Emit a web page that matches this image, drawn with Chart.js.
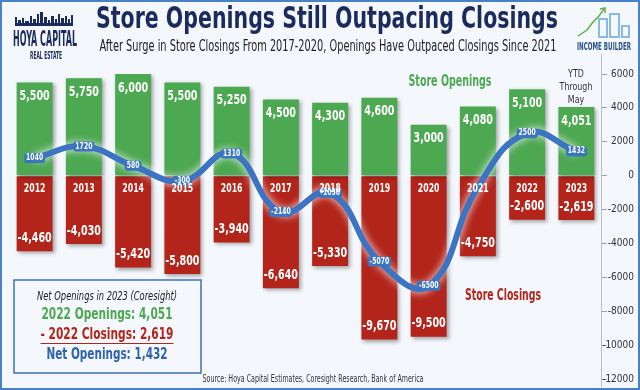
<!DOCTYPE html>
<html>
<head>
<meta charset="utf-8">
<script src="https://cdn.jsdelivr.net/npm/chart.js@4.4.0/dist/chart.umd.min.js"></script>
<style>
  html, body { margin: 0; padding: 0; background: #f4f7fc; }
  canvas { display: block; }
</style>
</head>
<body>
<canvas id="storeChart" width="640" height="390"></canvas>
<script>
// values
const years = ['2012', '2013', '2014', '2015', '2016', '2017', '2018', '2019', '2020', '2021', '2022', '2023'];
const openings = [5500, 5750, 6000, 5500, 5250, 4500, 4300, 4600, 3000, 4080, 5100, 4051];
const closings = [-4460, -4030, -5420, -5800, -3940, -6640, -5330, -9670, -9500, -4750, -2600, -2619];
const netOpenings = [1040, 1720, 580, -300, 1310, -2140, -1030, -5070, -6500, -670, 2500, 1432];
const hiddenNetLabels = ['2021'];   // label sits under the year text in the original
const yMin = -12000, yMax = 6000, yStep = 2000;

const BG = '#f4f7fc';
const GREEN = '#4da852';
const RED = '#b3241a';
const BLUE = '#3a74c2';
const NAVY = '#1c2b5e';
const NARROW = '"DejaVu Sans Condensed", "Liberation Sans", sans-serif';

// draw text squeezed/stretched to a given width (the original uses a condensed face)
function fitText(ctx, text, cx, cy, width, font, color) {
    ctx.save();
    ctx.font = font;
    const w = ctx.measureText(text).width;
    ctx.translate(cx, cy);
    ctx.scale(width / w, 1);
    ctx.fillStyle = color;
    ctx.textAlign = 'center';
    ctx.textBaseline = 'middle';
    ctx.fillText(text, 0, 0);
    ctx.restore();
}

// centred text with a fixed horizontal squeeze
function label(ctx, text, x, y, font, color, sx) {
    ctx.save();
    ctx.font = font;
    ctx.fillStyle = color;
    ctx.textAlign = 'center';
    ctx.textBaseline = 'middle';
    ctx.translate(x, y);
    ctx.scale(sx || 0.78, 1);
    ctx.fillText(text, 0, 0);
    ctx.restore();
}

const fmt = v => v.toLocaleString('en-US');

const backgroundPlugin = {
    id: 'background',
    beforeDraw(chart) {
        const ctx = chart.ctx;
        ctx.save();
        ctx.fillStyle = BG;
        ctx.fillRect(0, 0, chart.width, chart.height);
        ctx.restore();
    }
};

// soft drop shadow under bars, white glow around the net line
const shadowPlugin = {
    id: 'shadows',
    beforeDatasetDraw(chart, args) {
        const ctx = chart.ctx;
        ctx.save();
        if (args.meta.type === 'bar') {
            ctx.shadowColor = 'rgba(0,0,0,0.35)';
            ctx.shadowBlur = 4;
            ctx.shadowOffsetX = 2;
            ctx.shadowOffsetY = 2;
        } else {
            ctx.shadowColor = 'rgba(255,255,255,1)';
            ctx.shadowBlur = 9;
        }
    },
    afterDatasetDraw(chart) {
        chart.ctx.restore();
    }
};

const labelsPlugin = {
    id: 'valueLabels',
    afterDatasetsDraw(chart) {
        const ctx = chart.ctx;
        const x = chart.scales.x, y = chart.scales.y;
        ctx.save();

        // bar values
        chart.getDatasetMeta(1).data.forEach((bar, i) => {
            label(ctx, fmt(openings[i]), bar.x, bar.y + 14, 'bold 14px ' + NARROW, '#fff', 0.76);
        });
        chart.getDatasetMeta(2).data.forEach((bar, i) => {
            label(ctx, fmt(closings[i]), bar.x, bar.y - 13, 'bold 14px ' + NARROW, '#fff', 0.76);
        });

        // net line labels
        ctx.font = 'bold 8px ' + NARROW;
        chart.getDatasetMeta(0).data.forEach((pt, i) => {
            if (hiddenNetLabels.includes(years[i])) return;
            const t = String(netOpenings[i]);
            const w = ctx.measureText(t).width * 0.85 + 4;
            ctx.fillStyle = BLUE;
            ctx.beginPath();
            ctx.roundRect(pt.x - w / 2, pt.y - 5, w, 10, 3);
            ctx.fill();
            label(ctx, t, pt.x, pt.y, 'bold 8px ' + NARROW, '#fff', 0.85);
        });

        // years just below the zero line
        const zero = y.getPixelForValue(0);
        years.forEach((yr, i) => {
            label(ctx, yr, x.getPixelForValue(i), zero + 13, 'bold 12px ' + NARROW, '#fff', 0.72);
        });
        ctx.restore();
    }
};

function drawHoyaLogo(ctx) {
    ctx.save();
    ctx.fillStyle = NAVY;
    // skyline
    ctx.fillRect(15, 23, 58, 3);
    const towers = [[15, 17, 2], [18, 20, 3], [22, 18, 2], [25, 21, 4], [30, 16, 2], [33, 19, 3], [37, 14, 2], [40, 12, 3], [44, 17, 3], [48, 20, 2], [51, 16, 3], [55, 19, 2], [58, 14, 2], [61, 18, 3], [65, 16, 2], [68, 19, 2], [71, 15, 2]];
    towers.forEach(t => ctx.fillRect(t[0], t[1], t[2], 24 - t[1]));
    ctx.restore();
    fitText(ctx, 'HOYA CAPITAL', 45, 40, 64, 'bold 22px ' + NARROW, NAVY);
    fitText(ctx, 'REAL ESTATE', 46, 56, 32, 'bold 10px ' + NARROW, NAVY);
}

function drawIncomeLogo(ctx) {
    ctx.save();
    ctx.strokeStyle = '#8cb8e6';
    ctx.lineWidth = 2;
    ctx.strokeRect(599, 19, 8, 18);
    ctx.strokeRect(610, 14, 9, 23);
    ctx.strokeRect(622, 26, 7, 11);
    ctx.strokeStyle = '#5cb04a';
    ctx.lineWidth = 1.5;
    ctx.beginPath();
    ctx.moveTo(578, 36);
    ctx.lineTo(587, 30);
    ctx.lineTo(593, 22);
    ctx.lineTo(599, 16);
    ctx.lineTo(604, 9);
    ctx.stroke();
    ctx.beginPath();
    ctx.moveTo(600, 9);
    ctx.lineTo(605, 8);
    ctx.lineTo(605, 13);
    ctx.stroke();
    ctx.restore();
    fitText(ctx, 'INCOME BUILDER', 604, 47, 54, 'bold 11px ' + NARROW, '#2b4f8e');
}

const decorPlugin = {
    id: 'decor',
    afterDraw(chart) {
        const ctx = chart.ctx;
        const area = chart.chartArea;
        ctx.save();

        // frame
        ctx.strokeStyle = '#4a80c6';
        ctx.lineWidth = 2;
        ctx.strokeRect(1, 1, chart.width - 2, chart.height - 2);

        // axis spine runs past the plot area
        ctx.strokeStyle = '#b9bec8';
        ctx.lineWidth = 1;
        ctx.beginPath();
        ctx.moveTo(area.right + 0.5, 54);
        ctx.lineTo(area.right + 0.5, 387);
        ctx.stroke();

        // titles
        fitText(ctx, 'Store Openings Still Outpacing Closings', 327, 20, 462, 'bold 30px ' + NARROW, NAVY);
        fitText(ctx, 'After Surge in Store Closings From 2017-2020, Openings Have Outpaced Closings Since 2021', 328, 47, 457, '15px ' + NARROW, '#222');

        drawHoyaLogo(ctx);
        drawIncomeLogo(ctx);

        // series names on the plot
        fitText(ctx, 'Store Openings', 450, 82, 83, 'bold 16px ' + NARROW, GREEN);
        fitText(ctx, 'Store Closings', 503, 296, 76, 'bold 16px ' + NARROW, RED);

        // YTD note
        ['YTD', 'Through', 'May'].forEach((t, i) => {
            label(ctx, t, 576, 74 + i * 13, '11px ' + NARROW, '#333', 0.8);
        });

        // 2023 box
        ctx.strokeStyle = '#3f6fb8';
        ctx.lineWidth = 1.5;
        ctx.fillStyle = BG;
        ctx.fillRect(14, 280, 187, 93);
        ctx.strokeRect(14, 280, 187, 93);
        fitText(ctx, 'Net Openings in 2023 (Coresight)', 107, 297, 140, 'italic 12px ' + NARROW, '#222');
        fitText(ctx, '2022 Openings: 4,051', 107, 315, 131, 'bold 16px ' + NARROW, GREEN);
        fitText(ctx, '- 2022 Closings: 2,619', 107, 335, 133, 'bold 16px ' + NARROW, RED);
        ctx.strokeStyle = RED;
        ctx.lineWidth = 1.2;
        ctx.beginPath();
        ctx.moveTo(107 - 66.5, 343.5);
        ctx.lineTo(107 + 66.5, 343.5);
        ctx.stroke();
        fitText(ctx, 'Net Openings: 1,432', 107, 355, 121, 'bold 16px ' + NARROW, '#2e62ad');

        // source
        fitText(ctx, 'Source: Hoya Capital Estimates, Coresight Research, Bank of America', 313, 379, 221, '10px ' + NARROW, '#333');
        ctx.restore();
    }
};

new Chart(document.getElementById('storeChart'), {
    data: {
        labels: years,
        datasets: [
            {
                type: 'line',
                label: 'Net Openings',
                data: netOpenings,
                borderColor: BLUE,
                borderWidth: 6,
                tension: 0.45,
                pointRadius: 0,
                order: 0
            },
            {
                type: 'bar',
                label: 'Store Openings',
                data: openings,
                backgroundColor: GREEN,
                grouped: false,
                categoryPercentage: 1,
                barPercentage: 0.73,
                order: 1
            },
            {
                type: 'bar',
                label: 'Store Closings',
                data: closings,
                backgroundColor: RED,
                grouped: false,
                categoryPercentage: 1,
                barPercentage: 0.73,
                order: 1
            }
        ]
    },
    options: {
        responsive: false,
        animation: false,
        layout: { padding: { top: 74, bottom: 11, left: 10, right: 6 } },
        plugins: {
            legend: { display: false },
            tooltip: { enabled: false }
        },
        scales: {
            x: {
                display: false,
                offset: true
            },
            y: {
                position: 'right',
                min: yMin,
                max: yMax,
                border: { display: false },
                grid: { drawOnChartArea: false, tickLength: 6, color: '#9aa0aa' },
                afterFit: scale => { scale.width = 33; },
                ticks: {
                    stepSize: yStep,
                    padding: 0,
                    crossAlign: 'far',
                    color: '#333',
                    font: { family: NARROW, size: 10 },
                    callback: v => String(v)
                }
            }
        }
    },
    plugins: [backgroundPlugin, shadowPlugin, labelsPlugin, decorPlugin]
});
</script>
</body>
</html>
